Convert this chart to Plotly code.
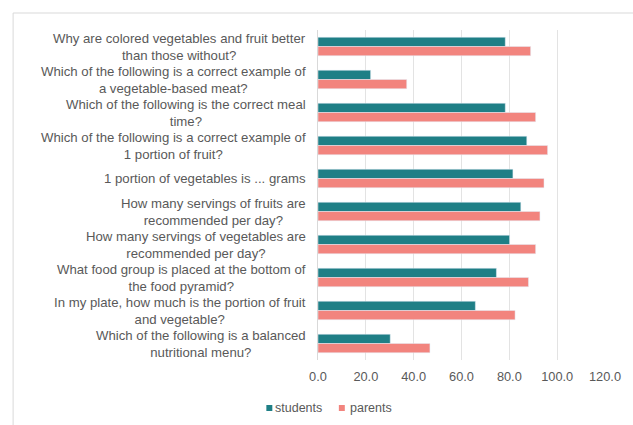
import plotly.graph_objects as go

questions = [
    "Why are colored vegetables and fruit better<br>than those without?",
    "Which of the following is a correct example of<br>a vegetable-based meat?",
    "Which of the following is the correct meal<br>time?",
    "Which of the following is a correct example of<br>1 portion of fruit?",
    "1 portion of vegetables is ... grams",
    "How many servings of fruits are<br>recommended per day?",
    "How many servings of vegetables are<br>recommended per day?",
    "What food group is placed at the bottom of<br>the food pyramid?",
    "In my plate, how much is the portion of fruit<br>and vegetable?",
    "Which of the following is a balanced<br>nutritional menu?",
]
students = [78.3, 22.0, 78.3, 87.3, 81.5, 84.8, 80.1, 74.6, 65.8, 30.2]
parents = [88.9, 37.1, 91.0, 96.0, 94.5, 92.8, 91.0, 88.0, 82.4, 46.8]
series_names = ["students", "parents"]
series_colors = ["#1f7f86", "#f2847e"]
x_ticks = [0, 20, 40, 60, 80, 100, 120]
x_tick_labels = ["0.0", "20.0", "40.0", "60.0", "80.0", "100.0", "120.0"]

W, H = 633, 425
L, R, T, B = 318, 26, 30, 65
pw, ph = W - L - R, H - T - B

def px_x(p):
    return (p - L) / pw

def px_y(p):
    return (T + ph - p) / ph

fig = go.Figure()
for name, vals, col in zip(series_names, [students, parents], series_colors):
    fig.add_trace(go.Bar(y=list(range(len(questions))), x=vals, name=name,
                         orientation="h", marker_color=col, showlegend=False))

font_fam = "Liberation Sans, Arial, sans-serif"
txt_col = "#595959"
annotations = []
for i, q in enumerate(questions):
    annotations.append(dict(x=0, xref="paper", y=i, yref="y", text=q,
                            xanchor="right", yanchor="middle", align="center",
                            xshift=-10, showarrow=False,
                            font=dict(family=font_fam, size=13.2, color=txt_col)))

# legend (manual, small squares)
shapes = []
legend_items = [(269, 273), (342, 348)]
for (sq_x, tx), name, col in zip(legend_items, series_names, series_colors):
    shapes.append(dict(type="rect", xref="paper", yref="paper",
                       x0=px_x(sq_x - 3), x1=px_x(sq_x + 3),
                       y0=px_y(408 + 3), y1=px_y(408 - 3),
                       fillcolor=col, line=dict(width=0)))
    annotations.append(dict(x=px_x(tx), xref="paper", y=px_y(408), yref="paper",
                            text=name, xanchor="left", yanchor="middle",
                            showarrow=False,
                            font=dict(family=font_fam, size=12.5, color=txt_col)))

shapes.append(dict(type="rect", xref="paper", yref="paper",
                   x0=px_x(11), x1=px_x(W + 5),
                   y0=px_y(H + 5), y1=px_y(13),
                   line=dict(color="#d9d9d9", width=1), layer="below"))

fig.update_layout(
    width=W, height=H,
    margin=dict(l=L, r=R, t=T, b=B),
    paper_bgcolor="white", plot_bgcolor="white",
    barmode="group", bargap=0.44, bargroupgap=0.0,
    font=dict(family=font_fam, size=12.5, color=txt_col),
    showlegend=False,
    xaxis=dict(range=[0, 120], tickvals=x_ticks, ticktext=x_tick_labels,
               showgrid=True, gridcolor="#e3e3e3", gridwidth=1,
               zeroline=False, showline=False, ticks="outside", ticklen=5,
               tickcolor="rgba(0,0,0,0)",
               tickfont=dict(size=12.8, color=txt_col)),
    yaxis=dict(range=[len(questions) - 0.5, -0.5], showticklabels=False,
               showgrid=False, zeroline=False, showline=True,
               linecolor="#d9d9d9", linewidth=1),
    annotations=annotations,
    shapes=shapes,
)

fig.write_html("out.html")
